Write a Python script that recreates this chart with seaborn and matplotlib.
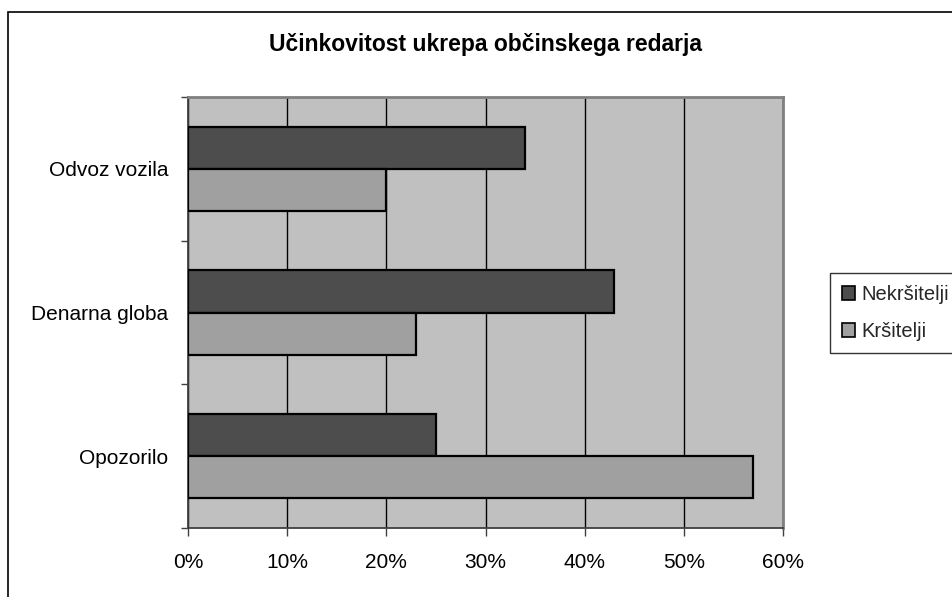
import matplotlib
matplotlib.use("Agg")
import matplotlib.pyplot as plt
import seaborn as sns
import pandas as pd
from matplotlib.patches import Rectangle
from matplotlib.ticker import FuncFormatter, FixedLocator

categories = ["Odvoz vozila", "Denarna globa", "Opozorilo"]
series_names = ["Nekršitelji", "Kršitelji"]
nekrsitelji = [34, 43, 25]
krsitelji = [20, 23, 57]
x_ticks = [0, 10, 20, 30, 40, 50, 60]
title = "Učinkovitost ukrepa občinskega redarja"

df = pd.DataFrame({
    "cat": categories * 2,
    "val": nekrsitelji + krsitelji,
    "series": [series_names[0]] * 3 + [series_names[1]] * 3,
})

sns.set_theme(style="white")
plt.rcParams["font.family"] = ["Liberation Sans", "DejaVu Sans"]

W, H = 952, 597
fig = plt.figure(figsize=(W / 100, H / 100), dpi=100)
fig.patch.set_facecolor("white")
ax = fig.add_axes([188 / W, 1 - 528 / H, (783 - 188) / W, (528 - 97) / H])
ax.set_facecolor("#C0C0C0")

palette = {series_names[0]: "#4D4D4D", series_names[1]: "#A0A0A0"}
sns.barplot(data=df, x="val", y="cat", hue="series", order=categories,
            hue_order=series_names, palette=palette, orient="h",
            width=0.585, edgecolor="black", linewidth=1.6, saturation=1,
            ax=ax, zorder=3)

ax.set_xlim(0, 60)
ax.set_ylim(2.5, -0.5)
ax.set_xticks(x_ticks)
ax.xaxis.set_major_formatter(FuncFormatter(lambda v, p: f"{int(v)}%"))
ax.grid(axis="x", color="black", linewidth=1.0, zorder=1)
ax.grid(axis="y", visible=False)
ax.set_axisbelow(True)
ax.set_xlabel("")
ax.set_ylabel("")

ax.set_yticks([0, 1, 2])
ax.set_yticklabels(categories)
ax.yaxis.set_minor_locator(FixedLocator([-0.5, 0.5, 1.5, 2.5]))
ax.tick_params(axis="y", which="major", length=0, pad=14, labelsize=15, colors="black")
ax.tick_params(axis="y", which="minor", left=True, length=5, width=1, color="#404040")
ax.tick_params(axis="x", which="major", bottom=True, length=6, width=1, color="#404040",
               pad=12, labelsize=15, labelcolor="black")

for s in ["left", "bottom"]:
    ax.spines[s].set_color("#404040")
    ax.spines[s].set_linewidth(1.3)
for s in ["top", "right"]:
    ax.spines[s].set_color("#808080")
    ax.spines[s].set_linewidth(2)
    ax.spines[s].set_visible(True)

ax.get_legend().remove()
handles = [Rectangle((0, 0), 1, 1, facecolor=palette[n], edgecolor="black", linewidth=1.2)
           for n in series_names]
leg = fig.legend(handles, series_names, loc="upper left",
                 bbox_to_anchor=(830 / W, 1 - 273 / H), fontsize=14.5,
                 frameon=True, fancybox=False, shadow=False,
                 handlelength=0.65, handleheight=0.65, handletextpad=0.3,
                 labelspacing=0.9, borderpad=0.6, borderaxespad=0)
leg.get_frame().set_edgecolor("black")
leg.get_frame().set_linewidth(1.0)
leg.get_frame().set_facecolor("white")

fig.text(486 / W, 1 - 45 / H, title, ha="center", va="center",
         fontsize=16.5, fontweight="bold", color="black")

fig.patches.append(Rectangle((8 / W, -0.1), 1.2, 1 - 12 / H + 0.1,
                             transform=fig.transFigure, fill=False,
                             edgecolor="black", linewidth=1.2))

fig.savefig("out.png", dpi=100)
